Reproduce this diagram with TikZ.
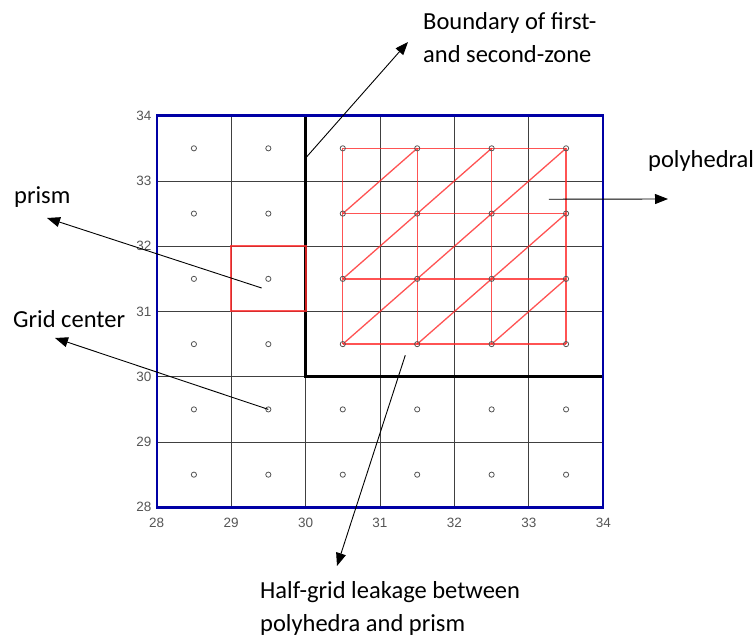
\documentclass[tikz,border=0pt]{standalone}
\usepackage{fontspec}
\setmainfont{Carlito}
\newfontfamily\axisfont{Liberation Sans}
\usetikzlibrary{positioning,arrows.meta}
\definecolor{frameblue}{RGB}{0,0,165}
\definecolor{meshred}{RGB}{255,40,40}
\definecolor{tickgrey}{RGB}{85,85,85}

\begin{document}
\begin{tikzpicture}[
    x=1pt, y=-1pt,
    >={Triangle[length=13pt,width=10pt]},
    note/.style={
        font=\fontsize{24.5}{33}\selectfont,
        inner sep=0pt,
        anchor=base west,
        align=left
    },
    ticklabel/.style={
        font=\axisfont\fontsize{13.5}{13.5}\selectfont,
        text=tickgrey,
        inner sep=0pt
    },
    gridline/.style={line width=0.8pt, black!75},
    zoneline/.style={line width=2.6pt, black},
    frameline/.style={line width=2.4pt, frameblue},
    mesh/.style={line width=1.3pt, meshred, draw opacity=0.8},
    centre/.style={line width=0.8pt, tickgrey},
    pointer/.style={->, line width=0.9pt}
]

\useasboundingbox (0,0) rectangle (756,637);

% ============================================================
% GRID (data coordinates 28..34)
% ============================================================

\begin{scope}[shift={(-1927.34,2334.86)}, x=74.43pt, y=65.27pt]

\foreach \k in {29,...,33} {
    \draw[gridline] (\k,28) -- (\k,34);
    \draw[gridline] (28,\k) -- (34,\k);
}

% axis numbers
\foreach \k in {28,...,34} {
    \node[ticklabel, anchor=east] (ytick\k) at (27.93,\k) {\k};
    \node[ticklabel] (xtick\k) at (\k,27.76) {\k};
}

% polyhedral mesh
\foreach \k in {30.5,31.5,...,33.5} {
    \draw[mesh] (30.5,\k) -- (33.5,\k);
    \draw[mesh] (\k,30.5) -- (\k,33.5);
}
\foreach \i in {30.5,31.5,32.5}
    \foreach \j in {30.5,31.5,32.5}
        \draw[mesh] (\i,\j) -- ++(1,1);

% zone boundary
\draw[zoneline] (30,34) -- (30,30) -- (34,30);

% outer frame
\draw[frameline] (28,28) rectangle (34,34);

% grid centres
\foreach \i in {28.5,29.5,...,33.5}
    \foreach \j in {28.5,29.5,...,33.5}
        \draw[centre] (\i,\j) circle[radius=2.6pt];

% prism cell
\draw[mesh, line width=2pt] (29,31) rectangle (30,32);

% arrow feet
\coordinate (zonefoot)   at (30,33.35);
\coordinate (polyfoot)   at (33.27,32.72);
\coordinate (prismfoot)  at (29.41,31.36);
\coordinate (centrefoot) at (29.5,29.5);
\coordinate (leakfoot)   at (31.34,30.33);

\end{scope}

% ============================================================
% ANNOTATIONS
% ============================================================

\node[note] (zonetext) at (423,62)
{Boundary of first-\\and second-zone};

\node[note] (polytext) at (648,167) {polyhedral};

\node[note] (prismtext) at (14,203) {prism};

\node[note] (centretext) at (13,327) {Grid center};

\node[note] (leaktext) at (260,631)
{Half-grid leakage between\\polyhedra and prism};

\coordinate (zonetip)   at (408,42);
\coordinate (polytip)   at (668,199);
\coordinate (prismtip)  at (47,218);
\coordinate (centretip) at (55,338);
\coordinate (leaktip)   at (337,566);

\draw[pointer] (zonefoot) -- (zonetip);
\draw[pointer] (polyfoot) -- (polytip);
\draw[pointer] (prismfoot) -- (prismtip);
\draw[pointer] (centrefoot) -- (centretip);
\draw[pointer] (leakfoot) -- (leaktip);

\end{tikzpicture}
\end{document}
